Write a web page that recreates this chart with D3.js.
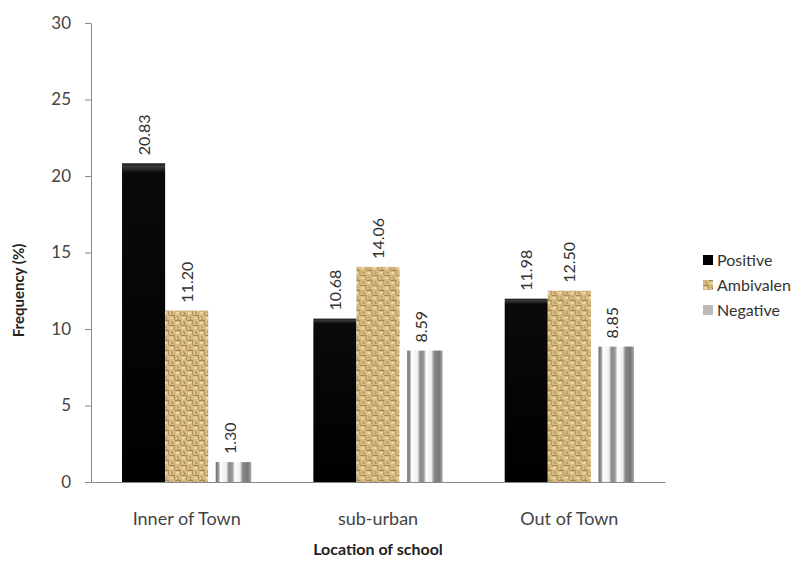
<!DOCTYPE html>
<html>
<head>
<meta charset="utf-8">
<script src="https://cdn.jsdelivr.net/npm/d3@7"></script>
<style>
  body { margin: 0; background: #fff; }
  svg text { font-family: Lato, "Open Sans", sans-serif; }
</style>
</head>
<body>
<div id="chart"></div>
<script>
// data
const categories = ["Inner of Town", "sub-urban", "Out of Town"];
const series = ["Positive", "Ambivalen", "Negative"];
const positive = [20.83, 10.68, 11.98];
const ambivalent = [11.20, 14.06, 12.50];
const negative = [1.30, 8.59, 8.85];
const yTicks = [0, 5, 10, 15, 20, 25, 30];

function chart() {
    const W = 812, H = 568;
    const plot = {l: 91, r: 665, t: 23, b: 482};

    let svg = d3.select("#chart").append("svg")
        .attr("width", W)
        .attr("height", H);
    svg.append("rect").attr("width", W).attr("height", H).attr("fill", "#fff");

    let defs = svg.append("defs");

    // black bar, soft rounded top
    let gPos = defs.append("linearGradient").attr("id", "gPos")
        .attr("x1", 0).attr("y1", 0).attr("x2", 0).attr("y2", 1);
    [["0%", "#111"], ["1%", "#3a3a3a"], ["3%", "#0a0a0a"], ["100%", "#000"]].forEach(s => {
        gPos.append("stop").attr("offset", s[0]).attr("stop-color", s[1]);
    });

    // woven tan texture
    let pat = defs.append("pattern").attr("id", "pAmb")
        .attr("patternUnits", "userSpaceOnUse")
        .attr("width", 12).attr("height", 10);
    pat.append("rect").attr("width", 12).attr("height", 10).attr("fill", "#d6bb82");
    const weave = [
        [0, 0, 6, 1, "#a98652"], [6, 5, 6, 1, "#a98652"],
        [5, 1, 1, 4, "#b3915c"], [11, 6, 1, 4, "#b3915c"],
        [1, 2, 3, 2, "#ecd9a8"], [7, 7, 3, 2, "#ecd9a8"],
        [8, 1, 2, 2, "#c4a46c"], [2, 6, 2, 2, "#c4a46c"],
        [9, 3, 1, 1, "#8d6d3e"], [3, 9, 1, 1, "#8d6d3e"]
    ];
    weave.forEach(w => {
        pat.append("rect").attr("x", w[0]).attr("y", w[1])
            .attr("width", w[2]).attr("height", w[3]).attr("fill", w[4]);
    });

    // grey stripes
    let gNeg = defs.append("linearGradient").attr("id", "gNeg")
        .attr("x1", 0).attr("y1", 0).attr("x2", 1).attr("y2", 0);
    [["0%", "#fff"], ["16%", "#fff"], ["19%", "#777"], ["24%", "#999"], ["28%", "#fff"],
     ["42%", "#eee"], ["48%", "#888"], ["56%", "#999"], ["62%", "#fff"], ["74%", "#eee"],
     ["80%", "#888"], ["92%", "#777"], ["100%", "#aaa"]].forEach(s => {
        gNeg.append("stop").attr("offset", s[0]).attr("stop-color", s[1]);
    });
    const fills = ["url(#gPos)", "url(#pAmb)", "url(#gNeg)"];
    const swatch = ["#000", "#c9a868", "#bbb"];

    let x0 = d3.scaleBand().domain(categories).range([plot.l, plot.r]);
    let x1 = d3.scaleBand().domain(series).range([0, x0.bandwidth()]).paddingOuter(0.72);
    let y = d3.scaleLinear().domain([0, 30]).range([plot.b, plot.t]);

    // y axis
    let yAxis = svg.append("g")
        .attr("transform", `translate(${plot.l},0)`)
        .call(d3.axisLeft(y).tickValues(yTicks).tickSize(6).tickPadding(14).tickSizeOuter(0));
    yAxis.select(".domain").attr("stroke", "#888");
    yAxis.selectAll(".tick line").attr("stroke", "#888");
    yAxis.selectAll(".tick text").attr("font-size", 17).attr("fill", "#444");

    // x axis
    let xAxis = svg.append("g")
        .attr("transform", `translate(0,${plot.b})`)
        .call(d3.axisBottom(x0).tickSize(0).tickPadding(30).tickSizeOuter(0));
    xAxis.select(".domain").attr("stroke", "#888");
    xAxis.selectAll(".tick text").attr("font-size", 18).attr("fill", "#444");

    const rows = categories.map((c, i) => ({cat: c, vals: [positive[i], ambivalent[i], negative[i]]}));

    let groups = svg.append("g").selectAll("g").data(rows).join("g")
        .attr("transform", d => `translate(${x0(d.cat)},0)`);

    groups.selectAll("rect").data(d => d.vals.map((v, k) => ({s: series[k], v: v, k: k})))
        .join("rect")
        .attr("x", d => x1(d.s))
        .attr("y", d => y(d.v))
        .attr("width", x1.bandwidth())
        .attr("height", d => y(0) - y(d.v))
        .attr("fill", d => fills[d.k]);

    groups.selectAll("text.val").data(d => d.vals.map((v, k) => ({s: series[k], v: v, k: k})))
        .join("text")
        .attr("class", "val")
        .attr("transform", d => `translate(${x1(d.s) + x1.bandwidth() / 2 + 6},${y(d.v) - 8}) rotate(-90)`)
        .attr("font-size", 16)
        .attr("fill", "#333")
        .text(d => d.v.toFixed(2));

    // axis titles
    svg.append("text")
        .attr("transform", `translate(24,${(plot.t + plot.b) / 2 + 38}) rotate(-90)`)
        .attr("text-anchor", "middle")
        .attr("font-size", 15)
        .attr("font-weight", 700)
        .attr("fill", "#222")
        .text("Frequency (%)");
    svg.append("text")
        .attr("x", (plot.l + plot.r) / 2)
        .attr("y", 555)
        .attr("text-anchor", "middle")
        .attr("font-size", 16)
        .attr("font-weight", 700)
        .attr("fill", "#222")
        .text("Location of school");

    // legend
    let legend = svg.append("g").attr("transform", "translate(703,260)");
    series.forEach((s, k) => {
        let row = legend.append("g").attr("transform", `translate(0,${k * 25})`);
        row.append("rect").attr("x", 0).attr("y", -5).attr("width", 10).attr("height", 10)
            .attr("fill", k === 1 ? "url(#pAmb)" : swatch[k]);
        row.append("text").attr("x", 14).attr("dy", "0.35em")
            .attr("font-size", 16).attr("fill", "#333").text(s);
    });
}
chart();
</script>
</body>
</html>
